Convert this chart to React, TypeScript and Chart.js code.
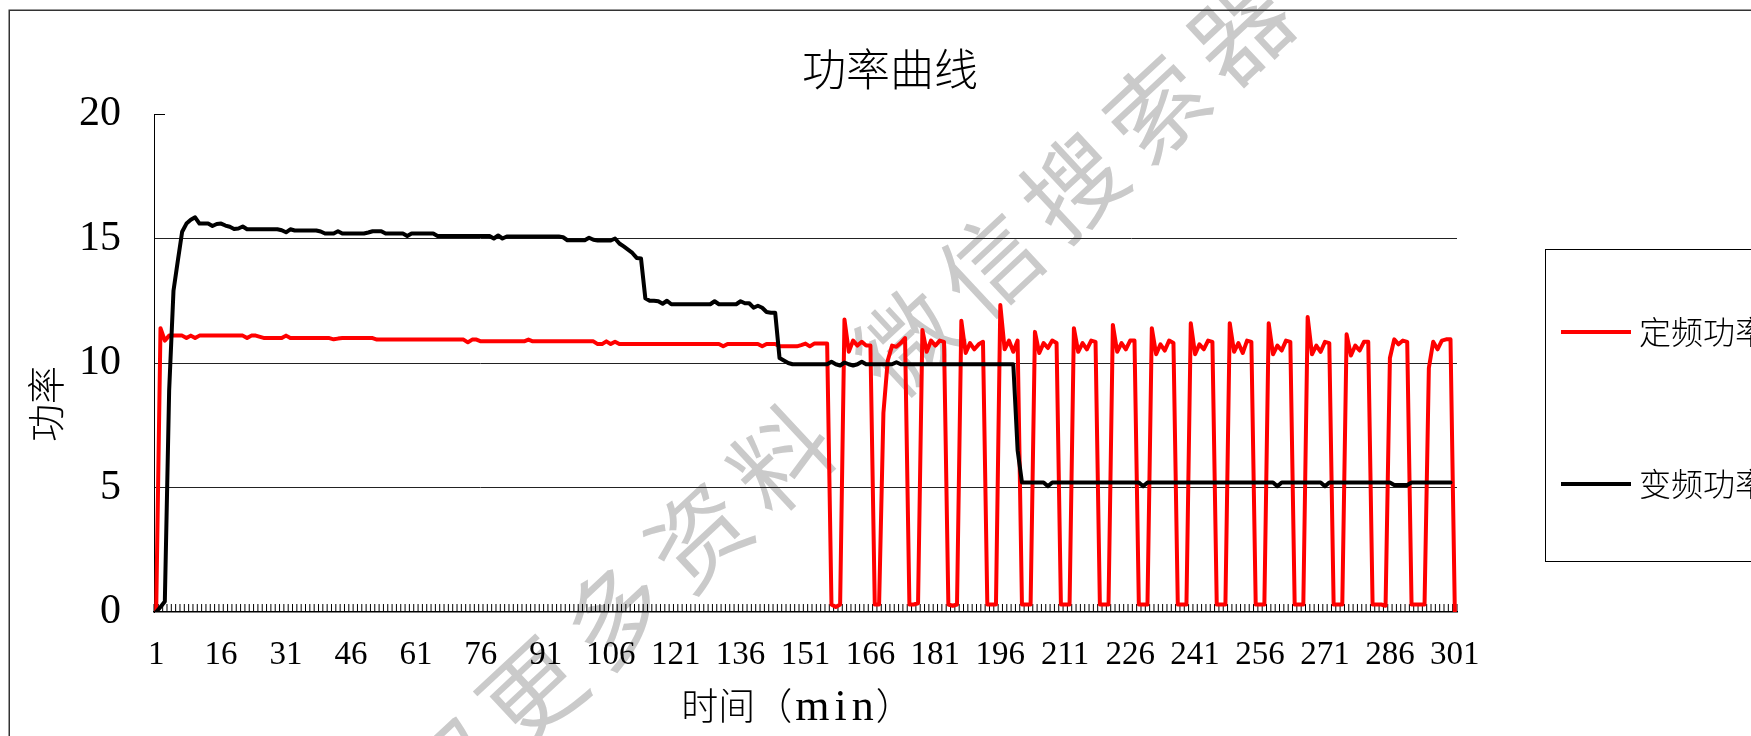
import React, { useEffect, useRef } from 'react';
import { Chart, registerables } from 'chart.js';

Chart.register(...registerables);

const chartTitle = '功率曲线';
const xAxisTitleParts = ['时间（', 'min', '）'];
const yAxisTitle = '功率';
const seriesNames = ['定频功率', '变频功率'];
const seriesColors = ['#ff0000', '#000000'];
const watermarkChars = ['获', '取', '更', '多', '资', '料', '微', '信', '搜', '索', '器'];
const watermarkSteps = [-4, -3, -2, -1, 0, 1, 2.5, 3.5, 4.5, 5.5, 6.5];

const tickLabels = ['1', '16', '31', '46', '61', '76', '91', '106', '121', '136', '151', '166', '181', '196', '211', '226', '241', '256', '271', '286', '301'];
const categories = Array.from({ length: 301 }, (_, i) => String(i + 1));

// 定频功率 (minutes 1..301)
const fixedFreqPower = [
  0, 11.4, 10.9, 11.1, 11.1, 11.1, 11.1, 11.0, 11.1, 11.0,
  11.1, 11.1, 11.1, 11.1, 11.1, 11.1, 11.1, 11.1, 11.1, 11.1,
  11.1, 11.0, 11.1, 11.1, 11.05, 11.0, 11.0, 11.0, 11.0, 11.0,
  11.1, 11.0, 11.0, 11.0, 11.0, 11.0, 11.0, 11.0, 11.0, 11.0,
  11.0, 10.95, 10.98, 11.0, 11.0, 11.0, 11.0, 11.0, 11.0, 11.0,
  11.0, 10.94, 10.94, 10.94, 10.94, 10.94, 10.94, 10.94, 10.94, 10.94,
  10.94, 10.94, 10.94, 10.94, 10.94, 10.94, 10.94, 10.94, 10.94, 10.94,
  10.94, 10.94, 10.83, 10.94, 10.94, 10.87, 10.87, 10.87, 10.87, 10.87,
  10.87, 10.87, 10.87, 10.87, 10.87, 10.87, 10.94, 10.87, 10.87, 10.87,
  10.87, 10.87, 10.87, 10.87, 10.87, 10.87, 10.87, 10.87, 10.87, 10.87,
  10.87, 10.87, 10.76, 10.76, 10.87, 10.76, 10.85, 10.76, 10.76, 10.76,
  10.76, 10.76, 10.76, 10.76, 10.76, 10.76, 10.76, 10.76, 10.76, 10.76,
  10.76, 10.76, 10.76, 10.76, 10.76, 10.76, 10.76, 10.76, 10.76, 10.76,
  10.76, 10.67, 10.76, 10.76, 10.76, 10.76, 10.76, 10.76, 10.76, 10.76,
  10.67, 10.76, 10.76, 10.76, 10.67, 10.67, 10.67, 10.67, 10.67, 10.72,
  10.78, 10.67, 10.78, 10.78, 10.78, 10.78, 0.3, 0.2, 0.3, 11.75,
  10.45, 10.9, 10.7, 10.85, 10.7, 10.7, 0.3, 0.3, 8.0, 10.1,
  10.7, 10.65, 10.8, 11.0, 0.3, 0.3, 0.35, 11.33, 10.45, 10.9,
  10.7, 10.9, 10.85, 0.3, 0.25, 0.3, 11.7, 10.4, 10.8, 10.55,
  10.75, 10.85, 0.3, 0.3, 0.3, 12.33, 10.55, 10.9, 10.45, 10.9,
  0.3, 0.3, 0.3, 11.25, 10.4, 10.8, 10.6, 10.9, 10.8, 0.3,
  0.3, 0.3, 11.4, 10.45, 10.8, 10.55, 10.9, 10.85, 0.3, 0.3,
  0.3, 11.53, 10.45, 10.8, 10.55, 10.9, 10.9, 0.3, 0.3, 0.3,
  11.4, 10.35, 10.75, 10.5, 10.9, 10.8, 0.3, 0.3, 0.3, 11.6,
  10.35, 10.75, 10.55, 10.9, 10.85, 0.3, 0.3, 0.3, 11.6, 10.45,
  10.8, 10.4, 10.9, 10.85, 0.3, 0.3, 0.3, 11.6, 10.35, 10.7,
  10.5, 10.9, 10.85, 0.3, 0.3, 0.3, 11.85, 10.35, 10.7, 10.45,
  10.85, 10.8, 0.3, 0.3, 0.3, 11.15, 10.3, 10.7, 10.5, 10.85,
  10.85, 0.3, 0.3, 0.3, 0.25, 10.2, 10.95, 10.75, 10.9, 10.85,
  0.3, 0.3, 0.3, 0.3, 9.8, 10.85, 10.55, 10.9, 10.95, 10.95,
  0,
];

// 变频功率 (minutes 1..301)
const variableFreqPower = [
  0, 0.2, 0.42, 8.9, 12.9, 14.1, 15.27, 15.6, 15.75, 15.85,
  15.6, 15.6, 15.6, 15.5, 15.58, 15.6, 15.52, 15.47, 15.38, 15.4,
  15.48, 15.37, 15.37, 15.37, 15.37, 15.37, 15.37, 15.37, 15.37, 15.33,
  15.25, 15.37, 15.32, 15.32, 15.32, 15.32, 15.32, 15.32, 15.28, 15.2,
  15.2, 15.2, 15.29, 15.2, 15.2, 15.2, 15.2, 15.2, 15.2, 15.24,
  15.29, 15.29, 15.29, 15.2, 15.2, 15.2, 15.2, 15.2, 15.1, 15.2,
  15.2, 15.2, 15.2, 15.2, 15.2, 15.1, 15.1, 15.1, 15.1, 15.1,
  15.1, 15.1, 15.1, 15.1, 15.1, 15.1, 15.1, 15.1, 15.0, 15.12,
  15.0, 15.08, 15.08, 15.08, 15.08, 15.08, 15.08, 15.08, 15.08, 15.08,
  15.08, 15.08, 15.08, 15.08, 15.05, 14.93, 14.93, 14.93, 14.93, 14.93,
  15.03, 14.95, 14.92, 14.92, 14.92, 14.92, 15.0, 14.8, 14.68, 14.55,
  14.42, 14.22, 14.2, 12.6, 12.5, 12.5, 12.48, 12.38, 12.5, 12.36,
  12.36, 12.36, 12.36, 12.36, 12.36, 12.36, 12.36, 12.36, 12.36, 12.48,
  12.36, 12.36, 12.36, 12.36, 12.36, 12.48, 12.4, 12.4, 12.22, 12.3,
  12.22, 12.05, 12.02, 12.02, 10.2, 10.1, 10.0, 9.95, 9.95, 9.95,
  9.95, 9.95, 9.95, 9.95, 9.95, 9.95, 10.05, 9.95, 9.9, 10.02,
  9.95, 9.9, 9.95, 10.05, 9.95, 9.95, 9.95, 9.95, 9.95, 9.95,
  9.95, 10.03, 9.95, 9.95, 9.95, 9.95, 9.95, 9.95, 9.95, 9.95,
  9.95, 9.95, 9.95, 9.95, 9.95, 9.95, 9.95, 9.95, 9.95, 9.95,
  9.95, 9.95, 9.95, 9.95, 9.95, 9.95, 9.95, 9.95, 9.95, 6.5,
  5.2, 5.2, 5.2, 5.2, 5.2, 5.2, 5.05, 5.2, 5.2, 5.2,
  5.2, 5.2, 5.2, 5.2, 5.2, 5.2, 5.2, 5.2, 5.2, 5.2,
  5.2, 5.2, 5.2, 5.2, 5.2, 5.2, 5.2, 5.2, 5.05, 5.2,
  5.2, 5.2, 5.2, 5.2, 5.2, 5.2, 5.2, 5.2, 5.2, 5.2,
  5.2, 5.2, 5.2, 5.2, 5.2, 5.2, 5.2, 5.2, 5.2, 5.2,
  5.2, 5.2, 5.2, 5.2, 5.2, 5.2, 5.2, 5.2, 5.2, 5.05,
  5.2, 5.2, 5.2, 5.2, 5.2, 5.2, 5.2, 5.2, 5.2, 5.2,
  5.05, 5.2, 5.2, 5.2, 5.2, 5.2, 5.2, 5.2, 5.2, 5.2,
  5.2, 5.2, 5.2, 5.2, 5.2, 5.2, 5.1, 5.1, 5.1, 5.1,
  5.2, 5.2, 5.2, 5.2, 5.2, 5.2, 5.2, 5.2, 5.2, 5.2,
  null,
];

const yTicks = [0, 5, 10, 15, 20];
const gridValues = [5, 10, 15];

const CJK = '"Noto Sans CJK SC", "Noto Sans", sans-serif';
const SERIF = '"Liberation Serif", "DejaVu Serif", serif';

const decorPlugin = {
  id: 'decor',
  beforeDraw(chart: any) {
    const ctx = chart.ctx as CanvasRenderingContext2D;
    ctx.save();
    ctx.fillStyle = '#ffffff';
    ctx.fillRect(0, 0, chart.width, chart.height);
    // watermark
    const ang = (43 * Math.PI) / 180;
    const step = 114;
    const ox = 698, oy = 536;
    ctx.fillStyle = '#cacaca';
    ctx.font = `400 98px ${CJK}`;
    ctx.textAlign = 'center';
    ctx.textBaseline = 'middle';
    watermarkChars.forEach((ch, k) => {
      const s = watermarkSteps[k];
      ctx.save();
      ctx.translate(ox + s * step * Math.cos(ang), oy - s * step * Math.sin(ang));
      ctx.rotate(-ang);
      ctx.fillText(ch, 0, 0);
      ctx.restore();
    });
    // outer frame
    ctx.strokeStyle = '#333333';
    ctx.lineWidth = 1.5;
    ctx.strokeRect(9.25, 10.25, 3000, 3000);
    ctx.restore();
  },
  beforeDatasetsDraw(chart: any) {
    const ctx = chart.ctx as CanvasRenderingContext2D;
    const x = chart.scales.x;
    const y = chart.scales.y;
    const area = chart.chartArea;
    ctx.save();
    ctx.strokeStyle = '#000000';
    ctx.lineWidth = 1;
    const half = (x.getPixelForValue(1) - x.getPixelForValue(0)) / 2;
    ctx.beginPath();
    for (let k = 0; k <= categories.length; k++) {
      const px = x.getPixelForValue(k) - half;
      ctx.moveTo(px, area.bottom);
      ctx.lineTo(px, area.bottom - 8);
    }
    ctx.stroke();
    const yt = Math.round(y.getPixelForValue(20)) + 0.5;
    ctx.beginPath();
    ctx.moveTo(area.left, yt);
    ctx.lineTo(area.left + 11, yt);
    ctx.stroke();
    ctx.restore();
  },
  afterDraw(chart: any) {
    const ctx = chart.ctx as CanvasRenderingContext2D;
    ctx.save();
    ctx.fillStyle = '#000000';
    ctx.textAlign = 'center';
    ctx.textBaseline = 'middle';
    // title
    ctx.font = `300 44px ${CJK}`;
    ctx.fillText(chartTitle, 890, 69);
    // x title, CJK part and latin part
    const fonts = [`300 37px ${CJK}`, `44px ${SERIF}`, `300 37px ${CJK}`];
    const spacing = ['0px', '5px', '0px'];
    const widths = xAxisTitleParts.map((t, k) => {
      ctx.font = fonts[k];
      (ctx as any).letterSpacing = spacing[k];
      return ctx.measureText(t).width;
    });
    const total = widths.reduce((a, b) => a + b, 0);
    let cx = 797 - total / 2;
    ctx.textAlign = 'left';
    xAxisTitleParts.forEach((t, k) => {
      ctx.font = fonts[k];
      (ctx as any).letterSpacing = spacing[k];
      ctx.fillText(t, cx + (k === 1 ? 3 : 0), k === 1 ? 708 : 706);
      cx += widths[k];
    });
    (ctx as any).letterSpacing = '0px';
    ctx.textAlign = 'center';
    // y title
    ctx.save();
    ctx.translate(46, 404);
    ctx.rotate(-Math.PI / 2);
    ctx.font = `300 38px ${CJK}`;
    ctx.fillText(yAxisTitle, 0, 0);
    ctx.restore();
    // legend
    ctx.strokeStyle = '#000000';
    ctx.lineWidth = 1;
    ctx.strokeRect(1545.5, 249.5, 400, 312);
    const rows = [332, 484];
    seriesNames.forEach((name, k) => {
      ctx.strokeStyle = seriesColors[k];
      ctx.lineWidth = 4;
      ctx.beginPath();
      ctx.moveTo(1561, rows[k]);
      ctx.lineTo(1631, rows[k]);
      ctx.stroke();
      ctx.fillStyle = '#000000';
      ctx.textAlign = 'left';
      ctx.font = `300 32px ${CJK}`;
      ctx.fillText(name, 1639, rows[k]);
    });
    ctx.restore();
  },
};

export default function App() {
  const ref = useRef<HTMLCanvasElement>(null);
  useEffect(() => {
    const canvas = ref.current;
    if (!canvas) return;
    const chart = new Chart(canvas, {
      type: 'line',
      data: {
        labels: categories,
        datasets: [
          {
            label: seriesNames[0],
            data: fixedFreqPower,
            borderColor: seriesColors[0],
            backgroundColor: seriesColors[0],
            borderWidth: 4,
            pointRadius: 0,
            tension: 0,
            borderJoinStyle: 'round',
            borderCapStyle: 'round',
            order: 1,
          },
          {
            label: seriesNames[1],
            data: variableFreqPower,
            borderColor: seriesColors[1],
            backgroundColor: seriesColors[1],
            borderWidth: 4,
            pointRadius: 0,
            tension: 0,
            borderJoinStyle: 'round',
            borderCapStyle: 'round',
            order: 0,
          },
        ],
      },
      options: {
        responsive: false,
        animation: false,
        devicePixelRatio: 1,
        layout: { padding: { top: 114, right: 294, bottom: 0, left: 0 } },
        plugins: {
          legend: { display: false },
          title: { display: false },
          tooltip: { enabled: false },
        },
        scales: {
          x: {
            type: 'category',
            offset: true,
            grid: { display: true, drawOnChartArea: false, drawTicks: false, color: 'transparent' },
            border: { display: true, color: '#000000', width: 1.5 },
            ticks: {
              autoSkip: false,
              maxRotation: 0,
              minRotation: 0,
              padding: 24,
              color: '#000000',
              font: { family: SERIF, size: 33 },
              callback: (_v: any, index: number) =>
                tickLabels.includes(categories[index]) ? categories[index] : '',
            },
            afterFit: (s: any) => {
              s.height = 124;
            },
          },
          y: {
            min: 0,
            max: 20,
            afterBuildTicks: (s: any) => {
              s.ticks = yTicks.map((v) => ({ value: v }));
            },
            grid: {
              drawTicks: false,
              lineWidth: 1,
              color: (c: any) => (gridValues.includes(c.tick?.value) ? '#222222' : 'transparent'),
            },
            border: { display: true, color: '#000000', width: 1 },
            ticks: {
              padding: 33,
              color: '#000000',
              font: { family: SERIF, size: 42 },
            },
            afterFit: (s: any) => {
              s.width = 154;
            },
          },
        },
      },
      plugins: [decorPlugin],
    } as any);
    return () => chart.destroy();
  }, []);
  return (
    <div style={{ position: 'fixed', left: 0, top: 0, width: 1751, height: 736, background: '#fff' }}>
      <canvas ref={ref} width={1751} height={736} style={{ display: 'block', width: 1751, height: 736 }} />
    </div>
  );
}
